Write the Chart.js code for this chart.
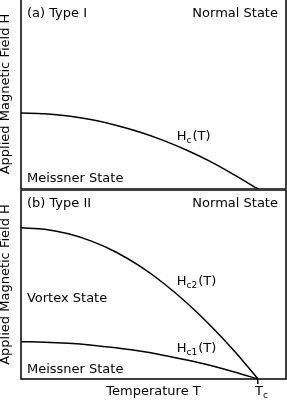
<!DOCTYPE html>
<html>
<head>
<meta charset="utf-8">
<script src="https://cdn.jsdelivr.net/npm/chart.js@4.4.1/dist/chart.umd.min.js"></script>
<style>
  html, body { margin: 0; padding: 0; background: #fff; }
  #wrap { position: relative; width: 287px; height: 400px; overflow: hidden; }
  #topChart { position: absolute; left: 0; top: -1px; }
  #bottomChart { position: absolute; left: 0; top: 190px; }
</style>
</head>
<body>
<div id="wrap">
  <canvas id="topChart" width="287" height="191"></canvas>
  <canvas id="bottomChart" width="287" height="210"></canvas>
</div>
<script>
// reduced temperature T/Tc
const temps = [0, 0.1, 0.2, 0.3, 0.4, 0.5, 0.6, 0.7, 0.8, 0.9, 1.0];
// (a) type I critical field
const hc = [0.400, 0.396, 0.384, 0.364, 0.336, 0.300, 0.256, 0.204, 0.144, 0.074, 0];
// (b) type II upper and lower critical fields
const hc2 = [0.800, 0.792, 0.768, 0.728, 0.672, 0.598, 0.508, 0.402, 0.282, 0.148, 0];
const hc1 = [0.197, 0.195, 0.189, 0.179, 0.165, 0.148, 0.126, 0.100, 0.071, 0.037, 0];
const tcTick = 1;
const xMax = 1.118;

Chart.defaults.font.family = '"DejaVu Sans"';
Chart.defaults.font.size = 13;
Chart.defaults.color = '#000';

const FONT = '13px "DejaVu Sans"';
const SUB_FONT = '9px "DejaVu Sans"';

const frame = {
  id: 'frame',
  afterDraw(chart) {
    const { ctx, chartArea: a } = chart;
    ctx.save();
    ctx.strokeStyle = '#000';
    ctx.lineWidth = 1.5;
    ctx.strokeRect(a.left, a.top, a.right - a.left, a.bottom - a.top);
    ctx.restore();
  }
};

// text labels with optional subscript, e.g. H + c + (T)
function drawNote(ctx, n, px, py) {
  ctx.font = FONT;
  const w1 = ctx.measureText(n.text).width;
  ctx.font = SUB_FONT;
  const w2 = n.sub ? ctx.measureText(n.sub).width + 1 : 0;
  ctx.font = FONT;
  const w3 = n.rest ? ctx.measureText(n.rest).width : 0;
  let x = px;
  if (n.align === 'right') x = px - (w1 + w2 + w3);
  ctx.fillText(n.text, x, py);
  if (n.sub) {
    ctx.font = SUB_FONT;
    ctx.fillText(n.sub, x + w1, py + 3);
    ctx.font = FONT;
  }
  if (n.rest) ctx.fillText(n.rest, x + w1 + w2, py);
}

const notes = {
  id: 'notes',
  afterDraw(chart, args, opts) {
    const { ctx, scales: { x, y } } = chart;
    ctx.save();
    ctx.fillStyle = '#000';
    ctx.textBaseline = 'alphabetic';
    ctx.textAlign = 'left';
    opts.items.forEach(n => {
      drawNote(ctx, n, x.getPixelForValue(n.x), y.getPixelForValue(n.y));
    });
    ctx.restore();
  }
};

function curve(vals) {
  return temps.map((t, i) => ({ x: t, y: vals[i] }));
}

function lineSet(vals) {
  return {
    data: curve(vals),
    borderColor: '#000',
    borderWidth: 1.5,
    pointRadius: 0,
    fill: false,
    cubicInterpolationMode: 'monotone'
  };
}

function yAxis() {
  return {
    min: 0,
    max: 1,
    ticks: { display: false },
    grid: { display: false },
    border: { display: false },
    title: {
      display: true,
      text: 'Applied Magnetic Field H',
      font: { size: 13, lineHeight: 1 },
      padding: { top: -1, bottom: 0 },
      color: '#000'
    },
    afterFit(s) { s.width = 21; }
  };
}

const topChart = new Chart(document.getElementById('topChart'), {
  type: 'line',
  data: { datasets: [lineSet(hc)] },
  options: {
    responsive: false,
    animation: false,
    layout: { padding: { left: 0, right: 1, top: 0, bottom: 1 } },
    plugins: {
      legend: { display: false },
      tooltip: { enabled: false },
      notes: {
        items: [
          { text: '(a) Type I', x: 0.025, y: 0.907 },
          { text: 'Normal State', x: 1.084, y: 0.907, align: 'right' },
          { text: 'Meissner State', x: 0.025, y: 0.038 },
          { text: 'H', sub: 'c', rest: '(T)', x: 0.657, y: 0.258 }
        ]
      }
    },
    scales: {
      x: { type: 'linear', min: 0, max: xMax, display: false },
      y: yAxis()
    }
  },
  plugins: [frame, notes]
});

const bottomChart = new Chart(document.getElementById('bottomChart'), {
  type: 'line',
  data: { datasets: [lineSet(hc2), lineSet(hc1)] },
  options: {
    responsive: false,
    animation: false,
    layout: { padding: { left: 0, right: 1, top: 0, bottom: 0 } },
    plugins: {
      legend: { display: false },
      tooltip: { enabled: false },
      notes: {
        items: [
          { text: '(b) Type II', x: 0.025, y: 0.912 },
          { text: 'Normal State', x: 1.084, y: 0.912, align: 'right' },
          { text: 'H', sub: 'c2', rest: '(T)', x: 0.657, y: 0.497 },
          { text: 'Vortex State', x: 0.025, y: 0.407 },
          { text: 'H', sub: 'c1', rest: '(T)', x: 0.657, y: 0.144 },
          { text: 'Meissner State', x: 0.025, y: 0.030 },
          { text: 'T', sub: 'c', x: 0.987, y: -0.085 }
        ]
      }
    },
    scales: {
      x: {
        type: 'linear',
        min: 0,
        max: xMax,
        afterBuildTicks(s) { s.ticks = [{ value: tcTick }]; },
        ticks: { display: false },
        grid: { drawOnChartArea: false, drawTicks: true, tickLength: 5, color: '#000', lineWidth: 1.5 },
        border: { display: false },
        title: {
          display: true,
          text: 'Temperature T',
          font: { size: 13, lineHeight: 1 },
          padding: { top: 0, bottom: 2 },
          color: '#000'
        },
        afterFit(s) { s.height = 21; }
      },
      y: yAxis()
    }
  },
  plugins: [frame, notes]
});
</script>
</body>
</html>
